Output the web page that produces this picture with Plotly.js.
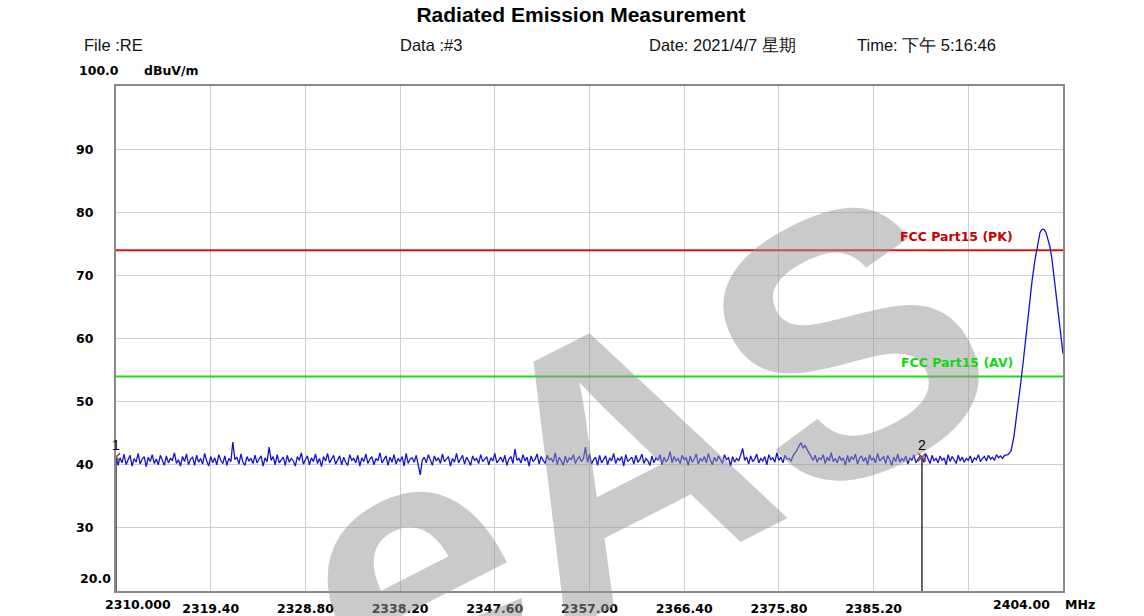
<!DOCTYPE html>
<html>
<head>
<meta charset="utf-8">
<script src="https://cdn.plot.ly/plotly-3.0.1.min.js"></script>
<style>html,body{margin:0;padding:0;background:#fff}#chart{width:1144px;height:616px}</style>
</head>
<body>
<div id="chart"></div>
<script>
// ---------------- data ----------------
const chartTitle = 'Radiated Emission Measurement';
const headerTexts = ['File :RE', 'Data :#3', 'Date: 2021/4/7 星期', 'Time: 下午 5:16:46'];
const yUnit = 'dBuV/m';
const xUnit = 'MHz';

const freqStart = 2310.0;
const freqStop = 2404.0;
const levelMin = 20.0;
const levelMax = 100.0;

// sweep of the noise floor (start, step)
const noiseStartMHz = 2310.0;
const noiseStepMHz = 0.2;
const noiseLevel = [
  41.4, 39.9, 41.1, 40.3, 41.7, 40.0, 40.8, 41.5, 39.8, 41.0,
  40.4, 41.8, 40.1, 40.9, 41.3, 39.7, 41.2, 40.5, 41.6, 40.2,
  40.9, 40.0, 41.5, 40.6, 39.9, 41.4, 40.3, 41.0, 40.7, 41.9,
  40.2, 40.8, 39.8, 41.3, 40.5, 41.7, 40.0, 40.9, 41.2, 39.9,
  41.5, 40.4, 41.0, 40.1, 41.8, 40.6, 39.8, 41.3, 40.3, 41.1,
  40.0, 41.6, 40.7, 40.2, 41.4, 39.9, 41.0, 40.5, 43.6, 40.8,
  41.2, 40.1, 41.7, 40.4, 39.9, 41.3, 40.6, 41.0, 40.2, 41.5,
  40.3, 40.9, 41.4, 39.8, 41.1, 40.5, 42.8, 40.7, 41.3, 40.0,
  41.6, 40.3, 40.8, 41.2, 39.9, 41.5, 40.4, 41.0, 40.6, 39.8,
  41.3, 40.7, 41.9, 40.1, 40.8, 41.4, 40.0, 41.1, 40.5, 41.7,
  40.2, 41.0, 39.7, 41.3, 40.6, 41.8, 40.3, 40.9, 41.5, 40.1,
  40.8, 41.4, 40.0, 41.2, 40.4, 39.9, 41.6, 40.7, 41.0, 40.3,
  41.5, 39.8, 41.1, 40.5, 41.7, 40.2, 40.9, 41.3, 40.0, 41.0,
  40.6, 41.9, 40.3, 40.8, 41.4, 39.9, 41.2, 40.4, 41.6, 40.1,
  41.0, 40.5, 41.3, 39.8, 41.8, 40.2, 40.9, 41.1, 40.4, 41.5,
  40.0, 38.4, 40.7, 41.2, 40.3, 41.6, 40.8, 39.9, 41.4, 40.6,
  41.1, 40.2, 41.7, 40.5, 40.9, 41.3, 39.8, 41.0, 40.4, 41.8,
  40.3, 40.8, 41.5, 40.1, 41.2, 40.6, 39.9, 41.4, 40.7, 41.0,
  40.2, 41.6, 40.5, 40.9, 41.3, 40.0, 41.1, 40.6, 41.8, 40.3,
  40.8, 41.2, 40.4, 41.5, 39.9, 40.9, 41.3, 40.2, 42.5, 40.7,
  41.0, 40.3, 41.6, 40.6, 41.2, 39.8, 41.4, 40.5, 40.9, 41.7,
  40.1, 41.3, 40.7, 40.2, 41.5, 40.8, 41.0, 40.4, 41.9, 40.0,
  41.2, 40.6, 39.9, 41.4, 40.3, 41.1, 40.8, 41.6, 40.2, 40.9,
  41.3, 40.5, 41.0, 42.8, 40.4, 41.7, 40.1, 40.8, 41.2, 39.9,
  41.5, 40.3, 40.9, 41.4, 40.0, 41.1, 40.6, 41.8, 40.2, 41.0,
  40.7, 41.3, 39.8, 41.6, 40.5, 40.9, 41.2, 40.1, 41.5, 40.4,
  40.8, 41.7, 40.2, 41.0, 40.6, 39.9, 41.4, 40.3, 41.1, 40.7,
  41.6, 40.0, 41.2, 40.5, 40.9, 42.1, 40.3, 41.3, 40.6, 41.0,
  40.2, 41.5, 40.8, 41.1, 39.9, 41.4, 40.4, 40.9, 41.7, 40.1,
  41.0, 40.6, 41.3, 40.3, 41.8, 40.7, 40.0, 41.2, 40.5, 41.4,
  40.9, 40.2, 41.6, 40.8, 41.1, 39.8, 41.3, 40.4, 41.0, 40.6,
  41.5, 42.6, 40.7, 41.2, 40.1, 41.4, 40.5, 40.9, 41.7, 40.3,
  41.0, 40.6, 41.3, 40.0, 41.6, 40.8, 41.1, 40.4, 41.9, 40.7,
  41.2, 40.3, 41.5, 40.9, 41.0, 40.6, 41.4, 41.8, 42.3, 43.0,
  43.5, 42.6, 43.1, 42.4, 41.9, 41.3, 40.7, 41.5, 40.4, 41.1,
  40.8, 41.6, 40.2, 41.2, 40.6, 41.9, 40.5, 41.0, 40.3, 41.4,
  40.7, 41.1, 39.9, 41.5, 40.4, 41.3, 40.8, 41.7, 40.1, 41.0,
  41.4, 40.5, 41.2, 40.0, 41.6, 40.7, 41.1, 40.3, 41.8, 40.6,
  40.9, 41.3, 40.2, 41.5, 40.8, 39.9, 41.2, 40.5, 41.7, 40.4,
  41.0, 40.6, 41.4, 40.1, 41.1, 40.7, 41.6, 40.3, 40.9, 41.3,
  41.2, 40.4, 41.7, 40.8, 40.2, 41.5, 40.6, 41.0, 40.3, 41.4,
  40.7, 41.1, 40.0, 41.6, 40.5, 41.3, 40.8, 40.2, 41.5, 40.6,
  41.2, 40.4, 41.0, 40.7, 41.4, 40.3, 41.1, 40.8, 41.6, 40.5,
  41.0, 41.3, 40.6, 41.5, 40.9, 41.2, 40.7, 41.6, 41.1, 41.4,
  41.0, 41.5
];

// carrier at the band edge
const peakFreq = [2398.54, 2398.84, 2399.13, 2399.43, 2399.73, 2400.03, 2400.33, 2400.63,
                  2400.92, 2401.22, 2401.52, 2401.72, 2401.92, 2402.12, 2402.31, 2402.51,
                  2402.71, 2402.91, 2403.21, 2403.50, 2403.80, 2404.00];
const peakLevel = [41.6, 42.2, 44.5, 48.0, 52.0, 56.0, 60.5, 65.0,
                   69.0, 72.5, 75.5, 76.8, 77.3, 77.3, 76.8, 75.8,
                   74.5, 72.5, 68.5, 64.0, 59.8, 57.6];

// limits
const limitNames = ['FCC Part15 (PK)', 'FCC Part15 (AV)'];
const limitLevels = [74.0, 54.0];

// markers
const markerIds = ['1', '2'];
const markerFreq = [2310.0, 2390.0];
const markerLevel = [41.2, 41.2];

// axis ticks
const xTickVals = [2319.4, 2328.8, 2338.2, 2347.6, 2357.0, 2366.4, 2375.8, 2385.2, 2394.6];
const xTickText = ['2319.40', '2328.80', '2338.20', '2347.60', '2357.00', '2366.40', '2375.80', '2385.20', ''];
const xEdgeText = ['2310.000', '2404.00'];
const yTickVals = [30, 40, 50, 60, 70, 80, 90];
const yTickText = ['30', '40', '50', '60', '70', '80', '90'];
const yEdgeText = ['20.0', '100.0'];

const watermark = 'eAS';

// ---------------- build ----------------
const traceX = noiseLevel.map((_, i) => +(noiseStartMHz + i * noiseStepMHz).toFixed(2)).concat(peakFreq);
const traceY = noiseLevel.concat(peakLevel);

const tickFont = {family: 'DejaVu Sans, sans-serif', size: 12.5, color: '#000', weight: 'bold'};
const limitColors = ['#e41010', '#18e018'];
const limitTextColors = ['#c80000', '#10d810'];

const traces = [];
limitLevels.forEach((lv, k) => {
  traces.push({x: [freqStart, freqStop], y: [lv, lv], mode: 'lines', type: 'scatter',
    line: {color: limitColors[k], width: 2}, hoverinfo: 'skip', showlegend: false});
});
markerFreq.forEach((f, k) => {
  traces.push({x: [f, f], y: [markerLevel[k], levelMin], mode: 'lines', type: 'scatter',
    line: {color: '#000', width: 1.2}, hoverinfo: 'skip', showlegend: false});
});
traces.push({x: traceX, y: traceY, mode: 'lines', type: 'scatter',
  line: {color: '#1212d8', width: 1.3}, showlegend: false});
traces.push({x: markerFreq, y: markerLevel, mode: 'markers', type: 'scatter',
  marker: {symbol: 'x-thin-open', size: 8, line: {color: '#000', width: 1.6}}, showlegend: false});

// paper helpers (plot area spans px 116..1063 x, 86..591 y)
const L = 116, R = 1063, T = 86, B = 591;
const px = x => (x - L) / (R - L);
const py = y => (B - y) / (B - T);

const ann = [];
ann.push({xref: 'paper', yref: 'paper', x: px(637), y: py(450), xanchor: 'center', yanchor: 'middle',
  showarrow: false, text: watermark, textangle: -27,
  font: {family: 'Liberation Sans, Arial, sans-serif', size: 370, weight: 'bold', color: 'rgba(150,150,150,0.5)'}});
const headerX = [82, 398, 647, 855];
headerTexts.forEach((t, k) => ann.push({xref: 'paper', yref: 'paper', x: px(headerX[k]), y: py(45),
  xanchor: 'left', yanchor: 'middle', showarrow: false, text: t,
  font: {family: 'Liberation Sans, Arial, sans-serif', size: 16.5, color: '#111'}}));
ann.push({xref: 'paper', yref: 'paper', x: px(121), y: py(71), xanchor: 'right', yanchor: 'middle',
  showarrow: false, text: yEdgeText[1], font: tickFont});
ann.push({xref: 'paper', yref: 'paper', x: px(142), y: py(71), xanchor: 'left', yanchor: 'middle',
  showarrow: false, text: yUnit, font: tickFont});
ann.push({xref: 'paper', yref: 'paper', x: px(113), y: py(578), xanchor: 'right', yanchor: 'middle',
  showarrow: false, text: yEdgeText[0], font: tickFont});
ann.push({xref: 'paper', yref: 'paper', x: px(103), y: py(604), xanchor: 'left', yanchor: 'middle',
  showarrow: false, text: xEdgeText[0], font: tickFont});
ann.push({xref: 'paper', yref: 'paper', x: px(1052), y: py(604), xanchor: 'right', yanchor: 'middle',
  showarrow: false, text: xEdgeText[1], font: tickFont});
ann.push({xref: 'paper', yref: 'paper', x: px(1063), y: py(604), xanchor: 'left', yanchor: 'middle',
  showarrow: false, text: xUnit, font: tickFont});
limitNames.forEach((n, k) => ann.push({xref: 'x', yref: 'y', x: 2399.2, y: limitLevels[k],
  xanchor: 'right', yanchor: 'bottom', yshift: 4, showarrow: false, text: n,
  font: {family: 'DejaVu Sans, sans-serif', size: 12.5, weight: 'bold', color: limitTextColors[k]}}));
markerIds.forEach((m, k) => ann.push({xref: 'x', yref: 'y', x: markerFreq[k], y: markerLevel[k],
  xanchor: 'center', yanchor: 'bottom', yshift: 2, showarrow: false, text: m,
  font: {family: 'Liberation Sans, Arial, sans-serif', size: 14, color: '#000'}}));

const layout = {
  width: 1144, height: 616,
  paper_bgcolor: '#fff', plot_bgcolor: '#fff',
  margin: {l: L, r: 1144 - R, t: T, b: 616 - B, pad: 0},
  title: {text: chartTitle, xref: 'container', yref: 'container', x: 581 / 1144, y: 1 - 15 / 616,
    xanchor: 'center', yanchor: 'middle',
    font: {family: 'Liberation Sans, Arial, sans-serif', size: 21, weight: 'bold', color: '#000'}},
  xaxis: {range: [freqStart, freqStop], tickmode: 'array', tickvals: xTickVals, ticktext: xTickText,
    showgrid: true, gridcolor: '#cfcfcf', gridwidth: 1, zeroline: false,
    showline: true, mirror: true, linecolor: '#8a8a8a', linewidth: 2,
    ticks: '', ticklabelstandoff: 5, tickfont: tickFont, fixedrange: true},
  yaxis: {range: [levelMin, levelMax], tickmode: 'array', tickvals: yTickVals, ticktext: yTickText,
    showgrid: true, gridcolor: '#cfcfcf', gridwidth: 1, zeroline: false,
    showline: true, mirror: true, linecolor: '#8a8a8a', linewidth: 2,
    ticks: '', ticklabelstandoff: 18, tickfont: tickFont, fixedrange: true},
  annotations: ann,
  showlegend: false
};

Plotly.newPlot('chart', traces, layout, {displayModeBar: false, staticPlot: true});
</script>
</body>
</html>
